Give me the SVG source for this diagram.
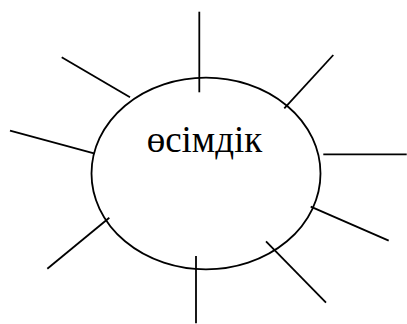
<svg xmlns="http://www.w3.org/2000/svg" width="407" height="324" viewBox="0 0 407 324">
<style>
.ln{stroke:#000;stroke-width:1.8;fill:none;}
.lbl{font-family:"Liberation Serif","Times New Roman",serif;font-size:37px;fill:#000;}
</style>
<rect width="407" height="324" fill="#fff"/>
<g id="node-center">
<ellipse class="ln" cx="206" cy="173.5" rx="114.5" ry="95.8"/>
<text class="lbl" x="204.5" y="151.7" text-anchor="middle">өсімдік</text>
</g>
<g id="connectors">
<line class="ln" x1="199.3" y1="11.7" x2="199.3" y2="92.3"/>
<line class="ln" x1="333.3" y1="55" x2="284.3" y2="108.3"/>
<line class="ln" x1="323.3" y1="154.3" x2="406.7" y2="154.3"/>
<line class="ln" x1="310.7" y1="206.7" x2="388.7" y2="240.7"/>
<line class="ln" x1="266" y1="241.3" x2="326" y2="302.7"/>
<line class="ln" x1="196" y1="256" x2="196" y2="323.3"/>
<line class="ln" x1="109.3" y1="217.7" x2="47.3" y2="268.7"/>
<line class="ln" x1="10" y1="130.7" x2="94" y2="153.3"/>
<line class="ln" x1="61.7" y1="57.3" x2="130" y2="97.3"/>
</g>
</svg>
